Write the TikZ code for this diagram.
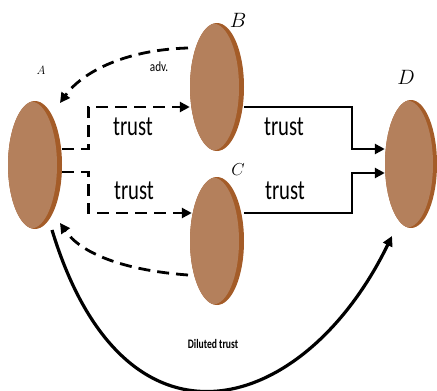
\documentclass[tikz,border=0pt]{standalone}
\usepackage{fontspec}
\newfontfamily\narrowfont[FakeStretch=0.74]{Carlito}
\newfontfamily\smallfont[FakeStretch=0.8]{Carlito}
\usetikzlibrary{arrows.meta,shapes.geometric}
\definecolor{bodybrown}{RGB}{180,128,92}
\definecolor{rimbrown}{RGB}{164,92,40}
\begin{document}
\begin{tikzpicture}[x=1pt,y=-1pt,
  peer/.style={ellipse, fill=rimbrown, minimum width=54pt, minimum height=128pt,
    inner sep=0pt,
    path picture={\fill[bodybrown] ([xshift=-4pt]path picture bounding box.center)
      ellipse (26pt and 63.5pt);}},
  tip/.style={-{Triangle[length=10pt,width=10pt]}},
  dashlink/.style={tip, line width=2.8pt, dash pattern=on 12pt off 7pt},
  solidlink/.style={tip, line width=2.5pt},
  edgetext/.style={font=\narrowfont\fontsize{28}{28}\selectfont, inner sep=0pt},
  peername/.style={inner sep=0pt}]
\useasboundingbox (0,0) rectangle (437,391);

% the four peers
\node[peer] (A) at (35,165) {};
\node[peer] (B) at (217,87) {};
\node[peer] (C) at (217,241) {};
\node[peer, minimum width=52pt] (D) at (411,164) {};

% peer names
\node[peername, font=\fontsize{12}{12}\selectfont] (nA) at (41,70) {$A$};
\node[peername, font=\fontsize{20}{20}\selectfont] (nB) at (238,20) {$B$};
\node[peername, font=\fontsize{18}{18}\selectfont] (nC) at (238,170) {$C$};
\node[peername, font=\fontsize{20}{20}\selectfont] (nD) at (406,77) {$D$};

% A trusts B and C
\draw[dashlink] ([yshift=16pt]A.east) -- ++(26,0) |- ([yshift=-20pt]B.west);
\draw[dashlink] ([yshift=-7pt]A.east) -- ++(26,0) |- ([xshift=2pt,yshift=28pt]C.west);

% B and C trust D
\draw[solidlink] ([yshift=-20pt]B.east) -- ++(108,0) |- ([yshift=15pt]D.west);
\draw[solidlink] ([yshift=28pt]C.east) -- ++(108,0) |- ([yshift=-9pt]D.west);

% adversarial feedback towards A
\draw[dashlink] ([xshift=-29pt,yshift=39pt]B.center)
  .. controls +(-68,2) and +(20,-28) .. ([xshift=25pt,yshift=62pt]A.center);
\draw[dashlink] ([xshift=-29pt,yshift=-34pt]C.center)
  .. controls +(-68,-5) and +(20,29) .. ([xshift=25pt,yshift=-58pt]A.center);

% indirect trust from A to D
\draw[tip, line width=3.2pt] ([xshift=17pt,yshift=-65pt]A.center)
  .. controls +(73,240) and +(-87,179) .. ([xshift=-19pt,yshift=-72pt]D.center);

% link labels
\node[edgetext] (t1) at (133,127) {trust};
\node[edgetext] (t2) at (134,191) {trust};
\node[edgetext] (t3) at (284,127) {trust};
\node[edgetext] (t4) at (285,191) {trust};
\node[inner sep=0pt, font=\smallfont\fontsize{14}{14}\selectfont] (adv) at (159,67) {adv.};
\node[inner sep=0pt, font=\narrowfont\bfseries\fontsize{13}{13}\selectfont] (dil) at (213,344) {Diluted trust};
\end{tikzpicture}
\end{document}
